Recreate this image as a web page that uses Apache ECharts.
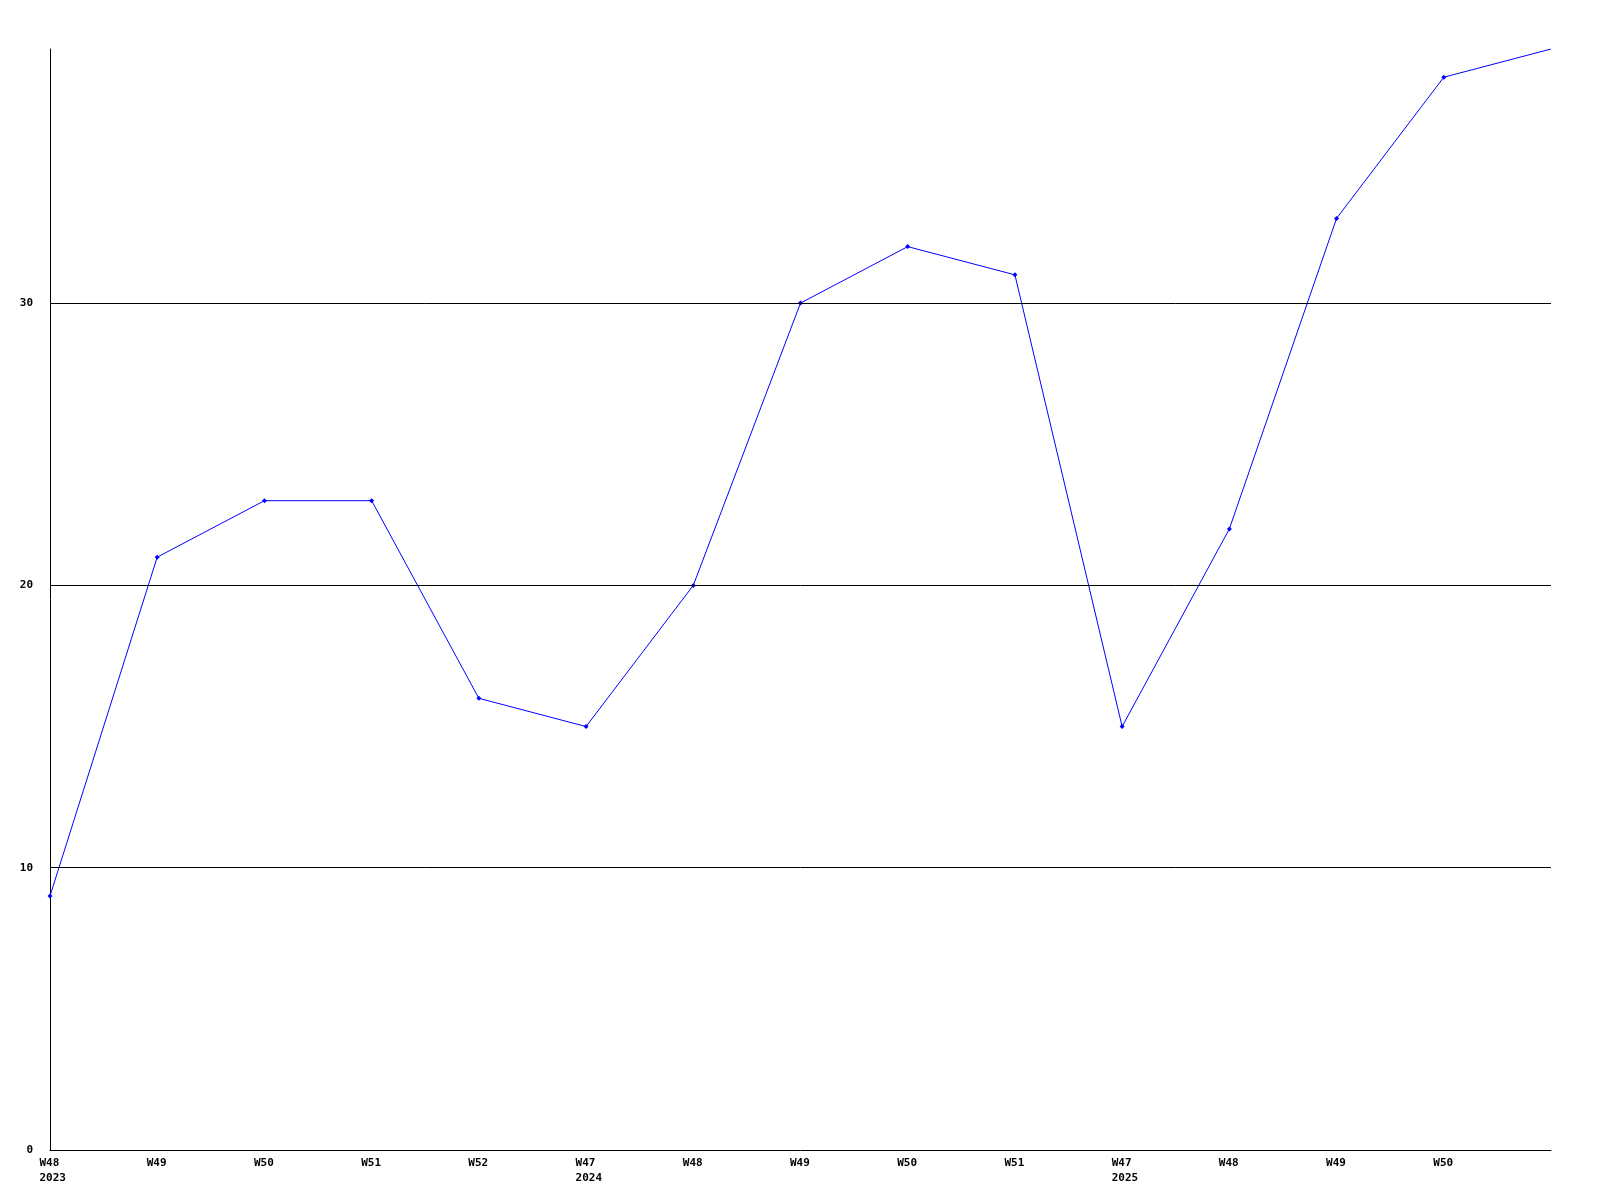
<!DOCTYPE html>
<html><head><meta charset="utf-8">
<script src="https://cdn.jsdelivr.net/npm/echarts@6/dist/echarts.min.js"></script>
<style>html,body{margin:0;padding:0;background:#fff}#c{width:1600px;height:1200px}</style>
</head><body><div id="c"></div>
<script>
const weeks = ['W48','W49','W50','W51','W52','W47','W48','W49','W50','W51','W47','W48','W49','W50',''];
const years = ['2023','','','','','2024','','','','','2025','','','',''];
const values = [9,21,23,23,16,15,20,30,32,31,15,22,33,38,39];
const yTicks = [0,10,20,30];
const gridValues = [10,20,30];

const categories = weeks.map((w,i)=> years[i] ? w + '\n' + years[i] : w);
const seriesData = values.map((v,i)=> i === values.length-1 ? {value:v, symbol:'none'} : v);
const chart = echarts.init(document.getElementById('c'), null, {renderer:'canvas'});
const font = 'DejaVu Sans Mono';
chart.setOption({
  animation:false,
  backgroundColor:'#fff',
  grid:{left:50,right:49,top:49,bottom:50,containLabel:false},
  xAxis:{
    type:'category', data:categories, boundaryGap:false,
    axisLine:{lineStyle:{color:'#000',width:1}},
    axisTick:{show:false},
    splitLine:{show:false},
    axisLabel:{
      interval:0, margin:6, color:'#000',
      formatter:(v)=>{const p=v.split('\n');return p.map(s=>'{a|'+s+'}').join('\n');},
      rich:{a:{width:21,align:'left',fontFamily:font,fontSize:11,fontWeight:'bold',color:'#000',lineHeight:15}}
    }
  },
  yAxis:{
    type:'value', min:0, max:39, interval:10,
    axisLine:{show:true,lineStyle:{color:'#000',width:1}},
    axisTick:{show:false},
    splitLine:{show:false},
    axisLabel:{margin:17,color:'#000',fontFamily:font,fontSize:11,fontWeight:'bold',
      showMaxLabel:false,
      formatter:(v)=> yTicks.includes(v)? String(v):''}
  },
  series:[{
    type:'line', data:seriesData, z:3,
    lineStyle:{color:'#0000ff',width:1},
    itemStyle:{color:'#0000ff'},
    symbol:'diamond', symbolSize:5, showSymbol:true,
    markLine:{
      silent:true, symbol:['none','none'], label:{show:false}, animation:false,
      lineStyle:{color:'#000',width:1,type:'solid'},
      data: gridValues.map(v=>({yAxis:v}))
    }
  }]
});
</script></body></html>
